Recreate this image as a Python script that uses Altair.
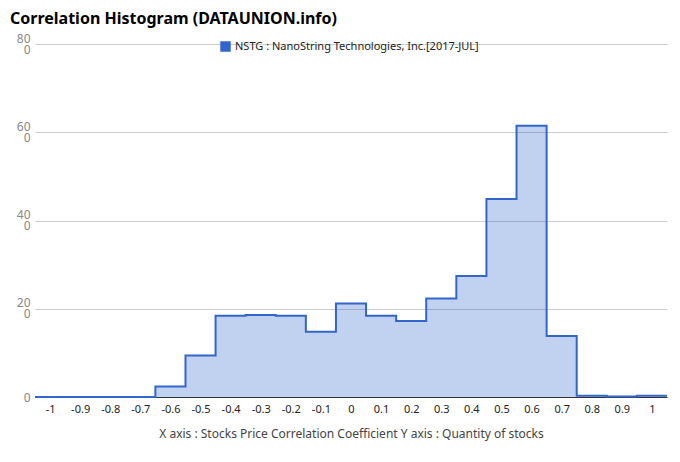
import altair as alt
import pandas as pd

centers = [-1.0, -0.9, -0.8, -0.7, -0.6, -0.5, -0.4, -0.3, -0.2, -0.1, 0.0,
           0.1, 0.2, 0.3, 0.4, 0.5, 0.6, 0.7, 0.8, 0.9, 1.0]
counts = [0, 0, 0, 0, 2.4, 9.4, 18.4, 18.6, 18.4, 14.8, 21.2,
          18.4, 17.2, 22.3, 27.4, 44.9, 61.5, 13.8, 0.3, 0.1, 0.3]
series_name = "NSTG : NanoString Technologies, Inc.[2017-JUL]"
y_ticks = [0, 20, 40, 60, 80]

half = 0.05
edges = [round(c - half, 2) for c in centers] + [round(centers[-1] + half, 2)]
vals = counts + [counts[-1]]
df = pd.DataFrame({"x": edges, "y": vals, "series": series_name})

font = "Noto Sans"

chart = alt.Chart(df).mark_area(
    interpolate="step-after",
    fillOpacity=0.3,
    line={"strokeWidth": 2, "color": "#3366CC"},
).encode(
    x=alt.X("x:Q",
            scale=alt.Scale(domain=[-1.05, 1.05], nice=False, zero=False),
            axis=alt.Axis(values=centers,
                          labelExpr="replace(format(datum.value, '.1~f'), '\u2212', '-')",
                          title="X axis : Stocks Price Correlation Coefficient  Y axis : Quantity of stocks",
                          grid=False, ticks=False, domainColor="#333333",
                          labelColor="#222222", labelFontSize=11, labelPadding=6,
                          labelFont=font, titleFont=font, titleFontSize=12,
                          titleFontWeight="normal", titleColor="#444444",
                          titlePadding=14)),
    y=alt.Y("y:Q",
            scale=alt.Scale(domain=[0, 80], nice=False),
            axis=alt.Axis(values=y_ticks, title=None, domain=False, ticks=False,
                          gridColor="#cccccc", labelColor="#888888",
                          labelFontSize=12, labelFont=font, labelPadding=5,
                          labelLineHeight=11,
                          labelOffset=alt.condition("datum.value == 0", alt.value(0), alt.value(-6)),
                          labelExpr="datum.value == 0 ? '0' : [format(datum.value, 'd'), '0']")),
    color=alt.Color("series:N",
                    scale=alt.Scale(range=["#3366CC"]),
                    legend=alt.Legend(title=None, orient="none", legendX=185, legendY=-3,
                                      symbolType="square", symbolSize=110,
                                      symbolStrokeWidth=0, symbolOpacity=1,
                                      labelFont=font, labelFontSize=11, labelLimit=0,
                                      labelColor="#222222")),
).properties(
    width=632,
    height=353,
    title=alt.TitleParams("Correlation Histogram (DATAUNION.info)", anchor="start",
                          frame="group", dx=-25, offset=5, font=font,
                          fontSize=16, fontWeight="bold", color="#000000"),
    autosize=alt.AutoSizeParams(type="none"),
    padding={"left": 27, "top": 36, "right": 5, "bottom": 57},
).configure_view(stroke=None)

chart.save("out.html", embed_options={"renderer": "svg", "actions": False})
